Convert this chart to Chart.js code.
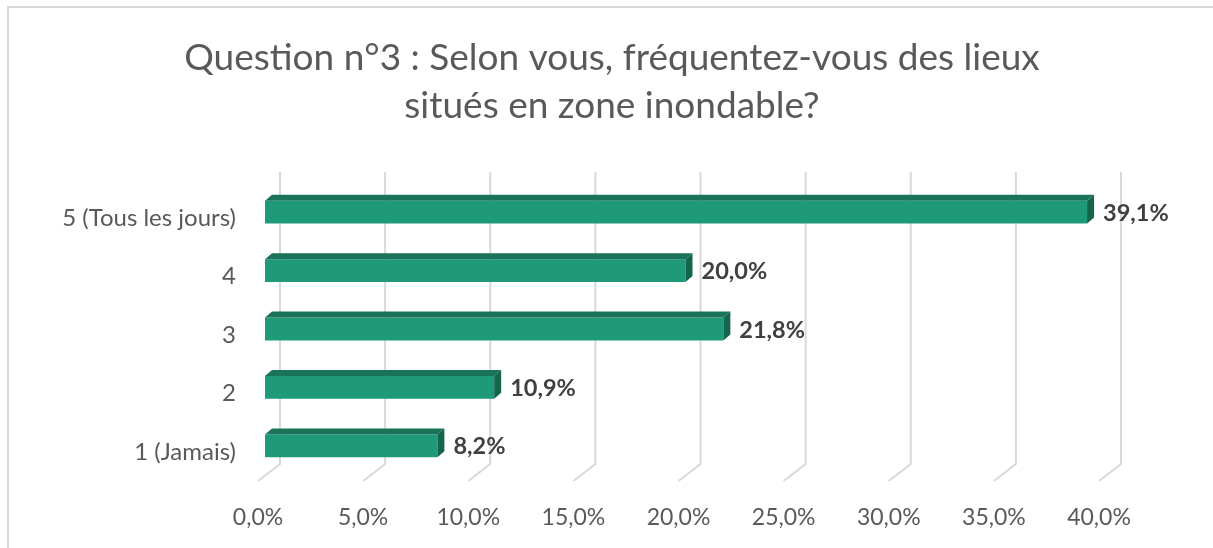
<!DOCTYPE html>
<html><head><meta charset="utf-8">
<script src="https://cdn.jsdelivr.net/npm/chart.js@4"></script>
<style>html,body{margin:0;padding:0;background:#fff}#wrap{width:1213px;height:548px;position:relative}</style>
</head><body><div id="wrap"><canvas id="c"></canvas></div>
<script>
const titleLines = ["Question n°3 : Selon vous, fréquentez-vous des lieux", "situés en zone inondable?"];
const categories = ["5 (Tous les jours)", "4", "3", "2", "1 (Jamais)"];
const percentages = [39.1, 20.0, 21.8, 10.9, 8.2];
const axisMin = 0, axisMax = 40, axisStep = 5;

const FONT = 'Lato, "Open Sans", sans-serif';
const fmt = v => Number(v).toFixed(1).replace('.', ',') + '%';

const frame = {
  id: 'frame',
  beforeDraw(chart) {
    const ctx = chart.ctx;
    ctx.save();
    ctx.fillStyle = '#fff';
    ctx.fillRect(0, 0, chart.width, chart.height);
    ctx.strokeStyle = '#d9d9d9';
    ctx.lineWidth = 2;
    ctx.strokeRect(8, 7, chart.width + 50, chart.height + 50);
    ctx.restore();
  }
};

const grid3d = {
  id: 'grid3d',
  beforeDatasetsDraw(chart) {
    const {ctx, chartArea, scales} = chart;
    const xs = scales.x;
    ctx.save();
    ctx.strokeStyle = '#d9d9d9';
    ctx.lineWidth = 2;
    xs.ticks.forEach(t => {
      const px = xs.getPixelForValue(t.value);
      const bx = px + 15;
      ctx.beginPath();
      ctx.moveTo(bx, chartArea.top - 11);
      ctx.lineTo(bx, chartArea.bottom - 11);
      ctx.lineTo(bx - 22, chartArea.bottom + 6);
      ctx.stroke();
    });
    ctx.restore();
  }
};

const bar3d = {
  id: 'bar3d',
  afterDatasetsDraw(chart) {
    const ctx = chart.ctx;
    const meta = chart.getDatasetMeta(0);
    const dx = 7, dy = 6;
    ctx.save();
    meta.data.forEach((bar, i) => {
      const p = bar.getProps(['x', 'y', 'base', 'height'], true);
      const top = p.y - p.height / 2, bottom = p.y + p.height / 2;
      ctx.fillStyle = '#1a7358';
      ctx.beginPath();
      ctx.moveTo(p.base, top);
      ctx.lineTo(p.base + dx, top - dy);
      ctx.lineTo(p.x + dx, top - dy);
      ctx.lineTo(p.x, top);
      ctx.closePath();
      ctx.fill();
      ctx.fillStyle = '#15644c';
      ctx.beginPath();
      ctx.moveTo(p.x, top);
      ctx.lineTo(p.x + dx, top - dy);
      ctx.lineTo(p.x + dx, bottom - dy);
      ctx.lineTo(p.x, bottom);
      ctx.closePath();
      ctx.fill();
      ctx.fillStyle = '#404040';
      ctx.font = 'bold 23.5px ' + FONT;
      ctx.textAlign = 'left';
      ctx.textBaseline = 'middle';
      ctx.fillText(fmt(chart.data.datasets[0].data[i]), p.x + 16, p.y + 1);
    });
    ctx.restore();
  }
};

new Chart(document.getElementById('c'), {
  type: 'bar',
  data: {
    labels: categories,
    datasets: [{
      data: percentages,
      backgroundColor: '#1e9a78',
      borderWidth: 0,
      barPercentage: 0.39,
      categoryPercentage: 1
    }]
  },
  options: {
    indexAxis: 'y',
    responsive: true,
    maintainAspectRatio: false,
    animation: false,
    layout: { padding: { left: 11, right: 0, top: 0, bottom: 0 } },
    plugins: {
      legend: { display: false },
      tooltip: { enabled: false },
      title: {
        display: true,
        text: titleLines,
        color: '#595959',
        font: { family: FONT, size: 37, weight: 'normal', lineHeight: '48px' },
        padding: { top: 34, bottom: 53 }
      }
    },
    scales: {
      x: {
        min: axisMin, max: axisMax,
        grid: { display: false, drawTicks: false },
        border: { display: false },
        ticks: {
          stepSize: axisStep,
          callback: v => fmt(v),
          color: '#595959',
          font: { family: FONT, size: 23 },
          padding: 29,
          labelOffset: -7,
          maxRotation: 0
        },
        afterFit(s) { s.height = 73; }
      },
      y: {
        grid: { display: false, drawTicks: false },
        border: { display: false },
        ticks: {
          color: '#595959',
          font: { family: FONT, size: 24 },
          padding: 29,
          labelOffset: 6
        },
        afterFit(s) { s.width = 254; }
      },
      yRight: {
        type: 'category',
        position: 'right',
        display: true,
        grid: { display: false, drawTicks: false },
        border: { display: false },
        ticks: { display: false },
        afterFit(s) { s.width = 107; }
      }
    }
  },
  plugins: [frame, grid3d, bar3d]
});
</script></body></html>
